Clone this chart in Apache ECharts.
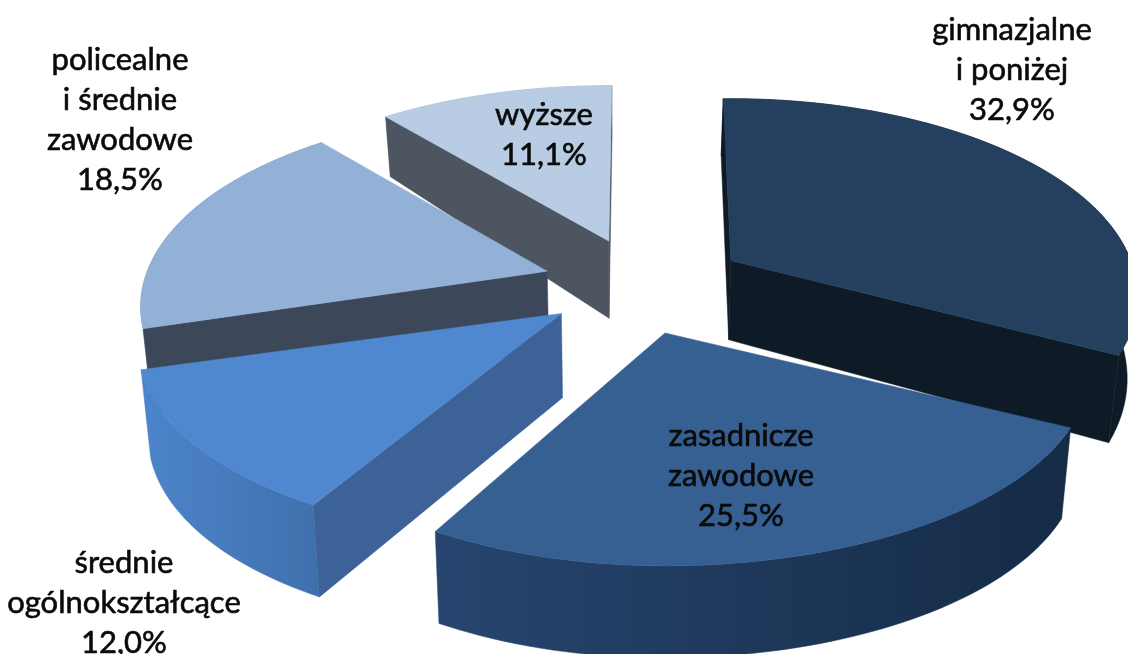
<!DOCTYPE html>
<html>
<head>
<meta charset="utf-8">
<style>
  html, body { margin: 0; padding: 0; background: #fff; }
  #main { width: 1128px; height: 654px; }
</style>
<script src="https://cdn.jsdelivr.net/npm/echarts@6/dist/echarts.min.js"></script>
</head>
<body>
<div id="main"></div>
<script>
var categories = ['gimnazjalne\ni poniżej', 'zasadnicze\nzawodowe', 'średnie\nogólnokształcące', 'policealne\ni średnie\nzawodowe', 'wyższe'];
var shares = [32.9, 25.5, 12.0, 18.5, 11.1];

// colours of each slice: top, cut face, outer wall (left, right)
var topColors = ['#25405F', '#365F92', '#5088D0', '#93B1D6', '#B8CCE4'];
var cutColors = ['#0E1B26', '#1B3452', '#3D6297', '#3C4859', '#4C5560'];
var wallColors = [['#0E1B26', '#0E1B26'], ['#27456F', '#152B46'], ['#4D85CB', '#3F70AC'], ['#7F9ABD', '#7F9ABD'], ['#8FA3BB', '#8FA3BB']];

// label centres, pixels
var labelPos = [[1012, 70], [741, 476], [124, 603], [120, 120], [544, 135]];

var centerX = 643, centerY = 285;
var radiusX = 400, radiusY = 191;
var perspective = 0.18;
var explode = 0.25;
// small per slice fixes for the original's skewed 3D view: rotation in degrees, shift x, shift y, x scale left, x scale right, y scale
var tweak = [
  [-1.3, 2, 0, 1, 1, 1],
  [-1.3, -5, 2, 1, 1.046, 1],
  [0, -3, -1, 1.04, 1, 0.98],
  [0, 0, 0, 1, 1, 1],
  [0.5, 0, 1, 1, 1, 0.96]
];

var chartDom = document.getElementById('main');
var myChart = echarts.init(chartDom);

var total = shares.reduce(function (a, b) { return a + b; }, 0);

function rim(apex, t, tw) {
  var a = t + tw[0] * Math.PI / 180;
  var u = Math.sin(a), v = -Math.cos(a);
  var f = 1 / (1 - perspective * v);
  return [apex[0] + radiusX * u * f * (u < 0 ? tw[3] : tw[4]), apex[1] + radiusY * v * f * tw[5]];
}
// same point on the underside of the pie
function drop(p) {
  var back = Math.max(0, (505 - p[1]) / 387);
  return [p[0] + (620 - p[0]) * 0.02, p[1] + 92 - 32 * back * back];
}
function poly(points, fill, z2) {
  return { type: 'polygon', shape: { points: points }, style: { fill: fill, stroke: fill, lineWidth: 0.5 }, z2: z2 };
}

function renderSlice(params, api) {
  var i = params.dataIndex;
  var tw = tweak[i];
  var before = 0;
  for (var k = 0; k < i; k++) before += shares[k];
  var t0 = before / total * Math.PI * 2;
  var t1 = (before + api.value(1)) / total * Math.PI * 2;
  var mid = (t0 + t1) / 2;
  var apex = [
    centerX + explode * radiusX * Math.sin(mid) + tw[1],
    centerY - explode * radiusY * Math.cos(mid) + tw[2]
  ];
  var arc = [];
  var steps = 60;
  for (var s = 0; s <= steps; s++) arc.push(rim(apex, t0 + (t1 - t0) * s / steps, tw));
  var z = Math.round(100 - 60 * Math.cos(mid)) * 10;

  var apexB = drop(apex);
  var arcB = arc.map(drop);
  var wallFill = new echarts.graphic.LinearGradient(0, 0, 1, 0, [
    { offset: 0, color: wallColors[i][0] },
    { offset: 1, color: wallColors[i][1] }
  ]);
  var children = [poly(arc.concat(arcB.slice().reverse()), wallFill, z)];
  // only the cut faces turned toward the viewer
  if (Math.cos(t0 - Math.PI / 2) < 1e-6) children.push(poly([apex, arc[0], arcB[0], apexB], cutColors[i], z + 1));
  if (Math.cos(t1 + Math.PI / 2) < 1e-6) children.push(poly([apex, arc[steps], arcB[steps], apexB], cutColors[i], z + 1));
  children.push(poly([apex].concat(arc), topColors[i], z + 2));
  return { type: 'group', children: children };
}

function renderLabel(params, api) {
  var i = params.dataIndex;
  return {
    type: 'text',
    z2: 5000,
    style: {
      x: labelPos[i][0],
      y: labelPos[i][1],
      text: categories[i] + '\n' + api.value(1).toFixed(1).replace('.', ',') + '%',
      align: 'center',
      verticalAlign: 'middle',
      font: '31px Lato',
      lineHeight: 40,
      fill: '#0a0a0a',
      stroke: '#0a0a0a',
      lineWidth: 0.6
    }
  };
}

var rows = shares.map(function (v, i) { return [i, v]; });

var option = {
  animation: false,
  series: [
    { type: 'custom', coordinateSystem: 'none', renderItem: renderSlice, data: rows, silent: true },
    { type: 'custom', coordinateSystem: 'none', renderItem: renderLabel, data: rows, silent: true }
  ]
};

option && myChart.setOption(option);
</script>
</body>
</html>
